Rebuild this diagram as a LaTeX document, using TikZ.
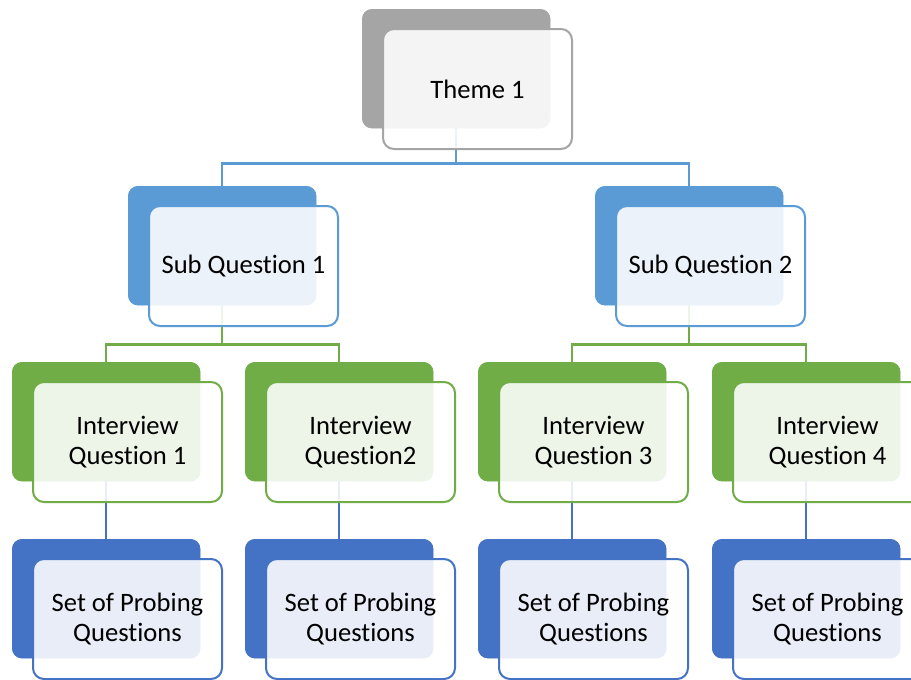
\documentclass[tikz,border=0pt]{standalone}
\usepackage{fontspec}
\setmainfont{Carlito}[Ligatures=NoCommon]
\definecolor{cgray}{HTML}{A5A5A5}
\definecolor{cblue}{HTML}{5B9BD5}
\definecolor{cgreen}{HTML}{70AD47}
\definecolor{cdblue}{HTML}{4472C4}
\tikzset{
  backbox/.style={draw=none, fill=#1, rounded corners=10pt, minimum width=188pt,
    minimum height=119pt, anchor=north west, inner sep=0pt},
  frontbox/.style={draw=#1, line width=2pt, fill=white, fill opacity=0.88,
    text opacity=1, rounded corners=11pt, minimum width=189pt, minimum height=120pt,
    anchor=north west, inner sep=0pt, align=center,
    font=\fontsize{26.6pt}{30pt}\selectfont},
  link/.style={draw=#1, line width=2.2pt},
}
\begin{document}
\begin{tikzpicture}[x=1pt,y=-1pt]
\clip (0,0) rectangle (911,680);
\fill[white] (0,0) rectangle (911,680);
% back plates
\node[backbox=cgray]  (tb)  at (362,9) {};
\node[backbox=cblue]  (s1b) at (128,186) {};
\node[backbox=cblue]  (s2b) at (595,186) {};
\node[backbox=cgreen] (i1b) at (12,362) {};
\node[backbox=cgreen] (i2b) at (245,362) {};
\node[backbox=cgreen] (i3b) at (478,362) {};
\node[backbox=cgreen] (i4b) at (712,362) {};
\node[backbox=cdblue] (p1b) at (12,539) {};
\node[backbox=cdblue] (p2b) at (245,539) {};
\node[backbox=cdblue] (p3b) at (478,539) {};
\node[backbox=cdblue] (p4b) at (712,539) {};
% connectors
\draw[link=cblue] (tb.south) -- ++(0,35) -| (s1b.north);
\draw[link=cblue] (tb.south) -- ++(0,35) -| (s2b.north);
\draw[link=cgreen] (s1b.south) -- ++(0,39) -| (i1b.north);
\draw[link=cgreen] (s1b.south) -- ++(0,39) -| (i2b.north);
\draw[link=cgreen] (s2b.south) -- ++(0,39) -| (i3b.north);
\draw[link=cgreen] (s2b.south) -- ++(0,39) -| (i4b.north);
\draw[link=cdblue] (i1b.south) -- (p1b.north);
\draw[link=cdblue] (i2b.south) -- (p2b.north);
\draw[link=cdblue] (i3b.south) -- (p3b.north);
\draw[link=cdblue] (i4b.south) -- (p4b.north);
% back plates again, over the connector stubs
\foreach \n/\c in {tb/cgray,s1b/cblue,s2b/cblue,i1b/cgreen,i2b/cgreen,i3b/cgreen,i4b/cgreen,p1b/cdblue,p2b/cdblue,p3b/cdblue,p4b/cdblue}
  \fill[\c, rounded corners=10pt] (\n.north west) rectangle (\n.south east);
% front cards
\node[frontbox=cgray]  (t)  at (382,28)  {Theme 1};
\node[frontbox=cblue]  (s1) at (148,205) {Sub Question 1};
\node[frontbox=cblue]  (s2) at (615,205) {Sub Question 2};
\node[frontbox=cgreen] (i1) at (32,381)  {Interview\\Question 1};
\node[frontbox=cgreen] (i2) at (265,381) {Interview\\Question2};
\node[frontbox=cgreen] (i3) at (498,381) {Interview\\Question 3};
\node[frontbox=cgreen] (i4) at (732,381) {Interview\\Question 4};
\node[frontbox=cdblue] (p1) at (32,558)  {Set of Probing\\Questions};
\node[frontbox=cdblue] (p2) at (265,558) {Set of Probing\\Questions};
\node[frontbox=cdblue] (p3) at (498,558) {Set of Probing\\Questions};
\node[frontbox=cdblue] (p4) at (732,558) {Set of Probing\\Questions};
\end{tikzpicture}
\end{document}
